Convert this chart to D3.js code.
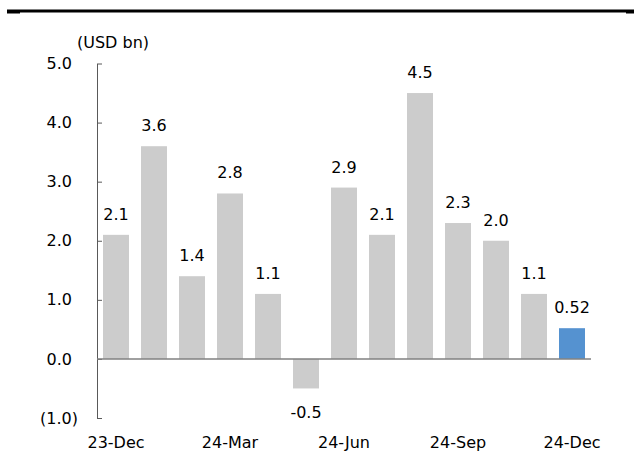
<!DOCTYPE html>
<html>
<head>
<meta charset="utf-8">
<script src="https://cdn.jsdelivr.net/npm/d3@7"></script>
<style>
  body { margin: 0; background: #fff; }
  svg text { font-family: "DejaVu Sans", Verdana, sans-serif; font-size: 16px; fill: #000; }
</style>
</head>
<body>
<div id="chart"></div>
<script>
// data
const months = ["23-Dec", "24-Jan", "24-Feb", "24-Mar", "24-Apr", "24-May", "24-Jun",
                "24-Jul", "24-Aug", "24-Sep", "24-Oct", "24-Nov", "24-Dec"];
const values = [2.1, 3.6, 1.4, 2.8, 1.1, -0.5, 2.9, 2.1, 4.5, 2.3, 2.0, 1.1, 0.52];
const xTickLabels = ["23-Dec", "24-Mar", "24-Jun", "24-Sep", "24-Dec"];
const yTicks = [-1, 0, 1, 2, 3, 4, 5];
const unitLabel = "(USD bn)";

const W = 638, H = 453;
const plot = { left: 97, right: 591, top: 63.5, bottom: 418 };

const svg = d3.select("#chart").append("svg")
    .attr("width", W)
    .attr("height", H);

// top rule, slightly heavier at both ends
svg.append("line")
    .attr("x1", 7).attr("x2", 634)
    .attr("y1", 11).attr("y2", 11)
    .attr("stroke", "#000").attr("stroke-width", 3);
svg.append("rect").attr("x", 7).attr("y", 12).attr("width", 13).attr("height", 1.5).attr("fill", "#000");
svg.append("rect").attr("x", 626).attr("y", 12).attr("width", 8).attr("height", 1.5).attr("fill", "#000");

const x = d3.scaleBand()
    .domain(months)
    .range([plot.left, plot.right])
    .paddingInner(0.316)
    .paddingOuter(0.158);

const y = d3.scaleLinear()
    .domain([-1, 5])
    .range([plot.bottom, plot.top]);

// y axis (ticks point inward)
const yAxis = svg.append("g")
    .attr("transform", `translate(${plot.left},0)`)
    .call(d3.axisLeft(y)
        .tickValues(yTicks)
        .tickSizeInner(-5)
        .tickSizeOuter(0)
        .tickPadding(19)
        .tickFormat(d => d < 0 ? `(${Math.abs(d).toFixed(1)})` : d.toFixed(1)));
yAxis.select(".domain").attr("stroke", "#595959");
yAxis.selectAll(".tick line").attr("stroke", "#595959");
yAxis.selectAll(".tick text")
    .attr("dx", d => d < 0 ? 0 : -6)
    .style("font-size", "16px");

svg.append("text")
    .attr("x", 77)
    .attr("y", 48)
    .text(unitLabel);

// bars
svg.selectAll("rect.bar")
    .data(values.map((v, i) => ({ m: months[i], v: v, last: i === values.length - 1 })))
    .enter()
    .append("rect")
    .attr("class", "bar")
    .attr("x", d => x(d.m))
    .attr("y", d => y(Math.max(0, d.v)))
    .attr("width", x.bandwidth())
    .attr("height", d => Math.abs(y(d.v) - y(0)))
    .attr("fill", d => d.last ? "#5592d0" : "#cccccc");

// zero line
svg.append("line")
    .attr("x1", plot.left).attr("x2", plot.right)
    .attr("y1", y(0)).attr("y2", y(0))
    .attr("stroke", "#808080").attr("stroke-width", 1.5);

// value labels
function fmt(v) {
    return Math.abs(v * 10 - Math.round(v * 10)) > 1e-9 ? v.toFixed(2) : v.toFixed(1);
}
svg.selectAll("text.val")
    .data(values.map((v, i) => ({ m: months[i], v: v })))
    .enter()
    .append("text")
    .attr("class", "val")
    .attr("x", d => x(d.m) + x.bandwidth() / 2)
    .attr("y", d => d.v >= 0 ? y(d.v) - 15 : y(d.v) + 30)
    .attr("text-anchor", "middle")
    .text(d => fmt(d.v));

// x axis labels
const xAxis = svg.append("g")
    .attr("transform", `translate(0,${plot.bottom})`)
    .call(d3.axisBottom(x)
        .tickValues(xTickLabels)
        .tickSize(0)
        .tickPadding(19));
xAxis.select(".domain").remove();
xAxis.selectAll(".tick text").style("font-size", "16px");
</script>
</body>
</html>
